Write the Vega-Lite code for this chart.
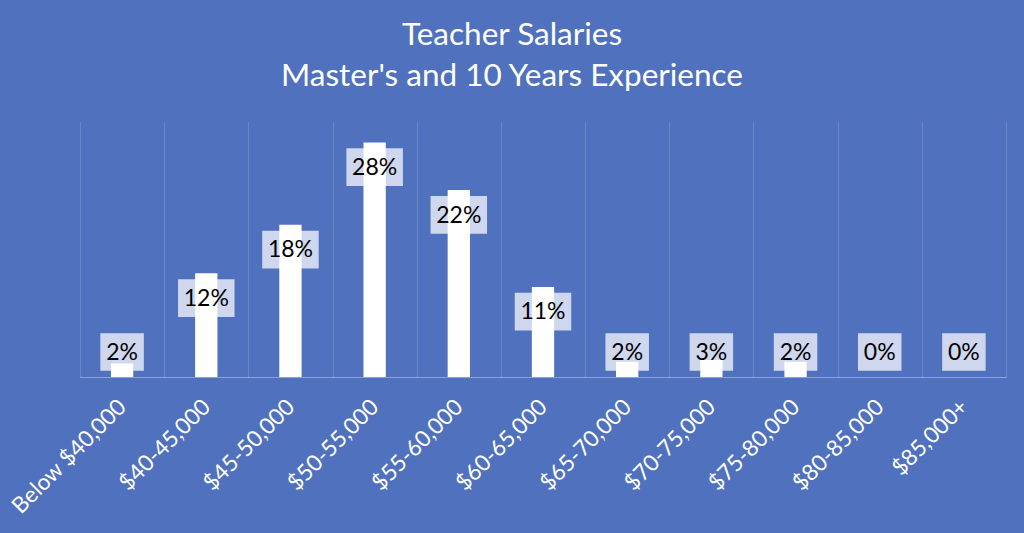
{
  "$schema": "https://vega.github.io/schema/vega-lite/v6.json",
  "autosize": {"type": "none"},
  "width": 926,
  "height": 255,
  "padding": {"left": 80, "top": 122, "right": 18, "bottom": 156},
  "background": "#4F71BE",
  "config": {"view": {"stroke": null}, "font": "Lato"},
  "title": {
    "text": ["Teacher Salaries", "Master's and 10 Years Experience"],
    "color": "#ffffff",
    "font": "Lato",
    "fontSize": 31.5,
    "fontWeight": "normal",
    "lineHeight": 41,
    "anchor": "middle",
    "dx": -31,
    "offset": 30
  },
  "data": {
    "values": [
      {"range": "Below $40,000", "value": 0.016, "label": "2%"},
      {"range": "$40-45,000", "value": 0.122, "label": "12%"},
      {"range": "$45-50,000", "value": 0.179, "label": "18%"},
      {"range": "$50-55,000", "value": 0.276, "label": "28%"},
      {"range": "$55-60,000", "value": 0.22, "label": "22%"},
      {"range": "$60-65,000", "value": 0.106, "label": "11%"},
      {"range": "$65-70,000", "value": 0.018, "label": "2%"},
      {"range": "$70-75,000", "value": 0.02, "label": "3%"},
      {"range": "$75-80,000", "value": 0.018, "label": "2%"},
      {"range": "$80-85,000", "value": 0, "label": "0%"},
      {"range": "$85,000+", "value": 0, "label": "0%"}
    ]
  },
  "encoding": {
    "x": {
      "field": "range",
      "type": "nominal",
      "sort": null,
      "scale": {"paddingInner": 0, "paddingOuter": 0},
      "axis": {
        "title": null,
        "grid": true,
        "tickBand": "extent",
        "gridColor": "#ffffff",
        "gridOpacity": 0.3,
        "gridDash": [1, 1],
        "gridWidth": 1,
        "ticks": false,
        "domain": true,
        "domainColor": "#ffffff",
        "domainOpacity": 0.35,
        "domainWidth": 1,
        "labelColor": "#ffffff",
        "labelFont": "Lato",
        "labelFontSize": 22.5,
        "labelAngle": -45,
        "labelAlign": "right",
        "labelBaseline": "middle",
        "labelPadding": 26
      }
    }
  },
  "layer": [
    {
      "mark": {"type": "bar", "color": "#ffffff", "width": {"band": 0.265}},
      "encoding": {
        "y": {"field": "value", "type": "quantitative", "scale": {"domain": [0, 0.3]}, "axis": null}
      }
    },
    {
      "transform": [
        {"calculate": "max(datum.value, 0.0586)", "as": "labelY"},
        {"filter": "length(datum.label) == 3"}
      ],
      "mark": {"type": "point", "shape": "M-1,-0.667H1V0.667H-1Z", "size": 3192, "filled": true, "color": "#ffffff", "opacity": 1, "fillOpacity": 0.72, "strokeWidth": 0, "yOffset": 24.8},
      "encoding": {
        "y": {"field": "labelY", "type": "quantitative", "scale": {"domain": [0, 0.3]}, "axis": null}
      }
    },
    {
      "transform": [
        {"calculate": "max(datum.value, 0.0586)", "as": "labelY"},
        {"filter": "length(datum.label) == 2"}
      ],
      "mark": {"type": "point", "shape": "M-0.77,-0.667H0.77V0.667H-0.77Z", "size": 3192, "filled": true, "color": "#ffffff", "opacity": 1, "fillOpacity": 0.72, "strokeWidth": 0, "yOffset": 24.8},
      "encoding": {
        "y": {"field": "labelY", "type": "quantitative", "scale": {"domain": [0, 0.3]}, "axis": null}
      }
    },
    {
      "transform": [
        {"calculate": "max(datum.value, 0.0586)", "as": "labelY"}
      ],
      "mark": {"type": "text", "font": "Lato", "fontSize": 23, "color": "#000000", "baseline": "middle", "align": "center", "yOffset": 25.5},
      "encoding": {
        "y": {"field": "labelY", "type": "quantitative", "scale": {"domain": [0, 0.3]}, "axis": null},
        "text": {"field": "label"}
      }
    }
  ]
}
